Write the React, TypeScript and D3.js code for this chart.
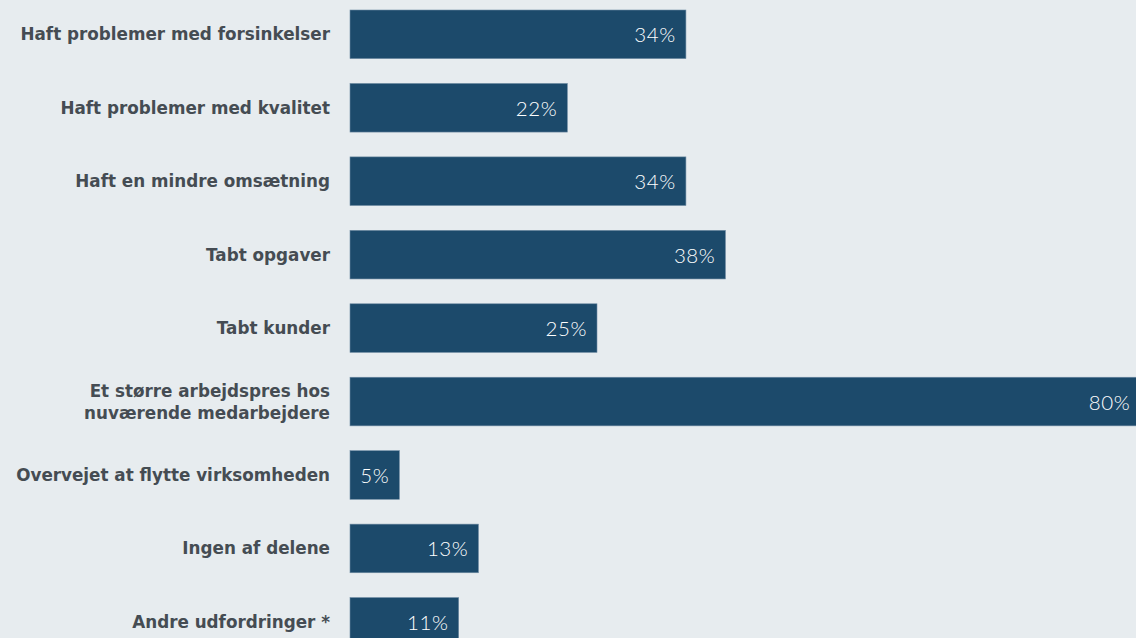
import React, { useEffect, useRef } from 'react';
import * as d3 from 'd3';

const categories = [
  ['Haft problemer med forsinkelser'],
  ['Haft problemer med kvalitet'],
  ['Haft en mindre omsætning'],
  ['Tabt opgaver'],
  ['Tabt kunder'],
  ['Et større arbejdspres hos', 'nuværende medarbejdere'],
  ['Overvejet at flytte virksomheden'],
  ['Ingen af delene'],
  ['Andre udfordringer *'],
];
const values = [34, 22, 34, 38, 25, 80, 5, 13, 11];

const W = 1136;
const H = 638;

export default function App() {
  const svgRef = useRef<SVGSVGElement>(null);

  useEffect(() => {
    document.body.style.margin = '0';
    const svg = d3.select(svgRef.current);
    svg.selectAll('*').remove();

    const idx = values.map((_, i) => i);
    const y = d3.scaleBand<number>().domain(idx).range([10, 646.2]).paddingInner(0.338).paddingOuter(0);
    const x = d3.scaleLinear().domain([0, 100]).range([350, 350 + 988]);

    svg.append('rect').attr('width', W).attr('height', H).attr('fill', '#e7ecef');

    const g = svg.append('g');

    g.selectAll('rect.bar')
      .data(idx)
      .enter()
      .append('rect')
      .attr('class', 'bar')
      .attr('x', x(0))
      .attr('y', i => y(i)!)
      .attr('width', i => x(values[i]) - x(0))
      .attr('height', y.bandwidth())
      .attr('fill', '#1c4a6b')
      .attr('stroke', '#6f8ba3')
      .attr('stroke-width', 0.6);

    g.selectAll('text.val')
      .data(idx)
      .enter()
      .append('text')
      .attr('class', 'val')
      .attr('x', i => x(values[i]) - 10)
      .attr('y', i => y(i)! + y.bandwidth() / 2)
      .attr('text-anchor', 'end')
      .attr('dominant-baseline', 'central')
      .attr('fill', '#ffffff')
      .attr('font-family', 'Lato, "Open Sans", sans-serif')
      .attr('font-weight', 300)
      .attr('font-size', 20.5)
      .attr('letter-spacing', 0.6)
      .text(i => `${values[i]}%`);

    const labels = g.selectAll('text.cat')
      .data(idx)
      .enter()
      .append('text')
      .attr('class', 'cat')
      .attr('text-anchor', 'end')
      .attr('fill', '#454c53')
      .attr('font-family', '"DejaVu Sans", sans-serif')
      .attr('font-weight', 'bold')
      .attr('font-size', 16.8);

    labels.each(function (i) {
      const lines = categories[i];
      const cy = y(i)! + y.bandwidth() / 2;
      const lh = 22;
      lines.forEach((ln, k) => {
        d3.select(this)
          .append('tspan')
          .attr('x', 330)
          .attr('y', cy + (k - (lines.length - 1) / 2) * lh)
          .attr('dominant-baseline', 'central')
          .text(ln);
      });
    });
  }, []);

  return (
    <svg ref={svgRef} width={W} height={H} style={{ display: 'block' }} />
  );
}
